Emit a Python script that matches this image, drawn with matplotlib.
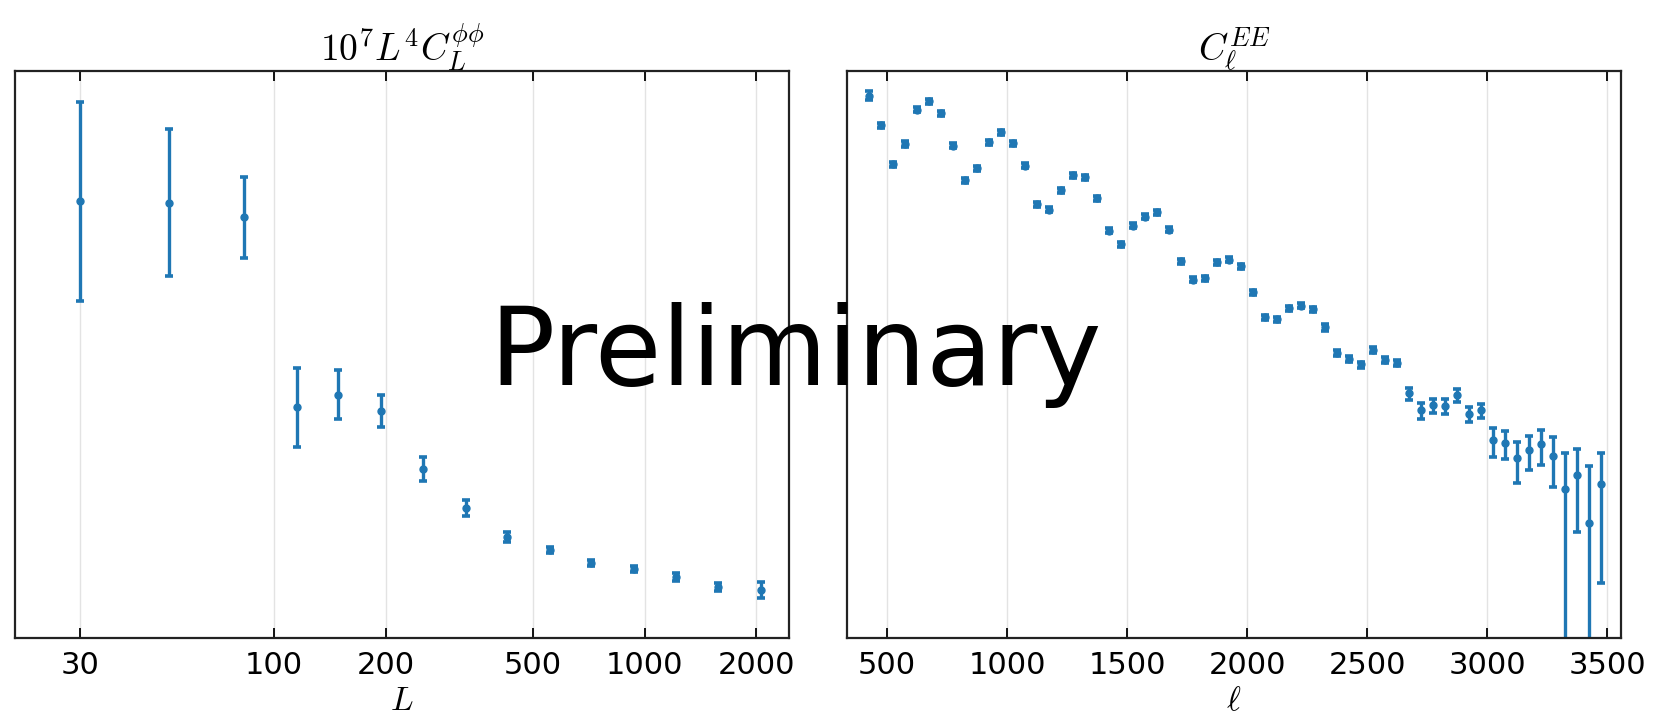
import numpy as np
import matplotlib
matplotlib.use('Agg')
import matplotlib.pyplot as plt
from matplotlib.ticker import FixedLocator, FixedFormatter, NullLocator

plt.rcParams['mathtext.fontset'] = 'cm'
plt.rcParams['font.family'] = ['DejaVu Sans']

# lensing bandpowers, 10^7 L^4 C_L^phiphi
L_bins = [30, 52, 83, 115, 149, 194, 253, 329, 426, 554, 718, 935, 1215, 1580, 2054]
clpp = [7.70, 7.68, 7.42, 4.07, 4.29, 4.00, 2.975, 2.29, 1.78, 1.55, 1.33, 1.22, 1.07, 0.905, 0.845]
clpp_err = [1.75, 1.30, 0.71, 0.70, 0.435, 0.28, 0.21, 0.14, 0.088, 0.058, 0.053, 0.053, 0.07, 0.07, 0.14]

# EE bandpowers (uK^2), bins of width 50
ell = list(range(425, 3476, 50))
clee = [9.78e-4, 5.43e-4, 2.49e-4, 3.72e-4, 7.40e-4, 8.80e-4, 6.89e-4, 3.61e-4,
        1.82e-4, 2.32e-4, 3.89e-4, 4.75e-4, 3.81e-4, 2.43e-4, 1.13e-4, 1.01e-4,
        1.49e-4, 2.00e-4, 1.94e-4, 1.27e-4, 6.65e-5, 5.10e-5, 7.34e-5, 8.78e-5,
        9.59e-5, 6.78e-5, 3.61e-5, 2.50e-5, 2.59e-5, 3.54e-5, 3.73e-5, 3.27e-5,
        1.96e-5, 1.19e-5, 1.145e-5, 1.42e-5, 1.50e-5, 1.40e-5, 9.70e-6, 5.82e-6,
        5.16e-6, 4.64e-6, 6.17e-6, 5.06e-6, 4.74e-6, 2.61e-6, 1.87e-6, 2.06e-6,
        2.02e-6, 2.52e-6, 1.73e-6, 1.87e-6, 1.03e-6, 9.63e-7, 7.14e-7, 8.42e-7,
        9.44e-7, 7.52e-7, 3.88e-7, 5.12e-7, 1.96e-7, 4.28e-7]
clee_relerr = [0.09, 0.05, 0.05, 0.06, 0.05, 0.05, 0.05, 0.05,
               0.05, 0.05, 0.05, 0.05, 0.05, 0.05, 0.05, 0.05,
               0.05, 0.05, 0.05, 0.05, 0.05, 0.05, 0.05, 0.05,
               0.05, 0.05, 0.05, 0.05, 0.05, 0.05, 0.05, 0.05,
               0.05, 0.05, 0.05, 0.05, 0.05, 0.05, 0.06, 0.06,
               0.06, 0.06, 0.06, 0.06, 0.06, 0.12, 0.155, 0.14,
               0.15, 0.12, 0.155, 0.14, 0.28, 0.27, 0.385, 0.32,
               0.34, 0.46, 1.05, 0.68, 2.15, 0.86]

L_ticks = [30, 100, 200, 500, 1000, 2000]
ell_ticks = [500, 1000, 1500, 2000, 2500, 3000, 3500]

eb_style = dict(fmt='o', ms=5, color='#1f77b4', elinewidth=2.4,
                capsize=2.9, capthick=2.6)

fig = plt.figure(figsize=(16.55, 7.28), dpi=100)
ax1 = fig.add_axes([0.00906, 0.1236, 0.4767 - 0.00906, 0.9025 - 0.1236])
ax2 = fig.add_axes([0.5118, 0.1236, 0.9795 - 0.5118, 0.9025 - 0.1236])

ax1.errorbar(L_bins, clpp, yerr=clpp_err, **eb_style)
ax1.set_xscale('log')
ax1.set_xlim(20, 2450)
ax1.set_ylim(0, 10)
ax1.xaxis.set_major_locator(FixedLocator(L_ticks))
ax1.xaxis.set_major_formatter(FixedFormatter([str(t) for t in L_ticks]))
ax1.xaxis.set_minor_locator(NullLocator())
ax1.set_title(r'$10^7L^4C_L^{\phi\phi}$', fontsize=27, pad=7)
ax1.set_xlabel(r'$L$', fontsize=24, labelpad=3)

clee = np.array(clee)
ax2.set_yscale('log', nonpositive='clip')
ax2.errorbar(ell, clee, yerr=clee * np.array(clee_relerr), **eb_style)
ax2.set_xlim(333, 3558)
ax2.set_ylim(2e-8, 1.6e-3)
ax2.xaxis.set_major_locator(FixedLocator(ell_ticks))
ax2.xaxis.set_major_formatter(FixedFormatter([str(t) for t in ell_ticks]))
ax2.set_title(r'$C_\ell^{EE}$', fontsize=27, pad=7)
ax2.set_xlabel(r'$\ell$', fontsize=24, labelpad=3)

for ax in (ax1, ax2):
    ax.yaxis.set_major_locator(NullLocator())
    ax.yaxis.set_minor_locator(NullLocator())
    ax.tick_params(axis='x', which='major', direction='in', top=True, bottom=True,
                   length=7, width=1.3, labelsize=22, pad=9)
    ax.tick_params(axis='y', left=False, right=False, labelleft=False)
    ax.grid(axis='x', color='#e3e3e3', lw=1.0)
    ax.set_axisbelow(True)
    for sp in ax.spines.values():
        sp.set_linewidth(1.6)
        sp.set_color('#222222')

fig.text(0.481, 0.471, 'Preliminary', fontsize=78, ha='center', va='baseline',
         color='black', zorder=10)

fig.savefig('out.png', dpi=100)
